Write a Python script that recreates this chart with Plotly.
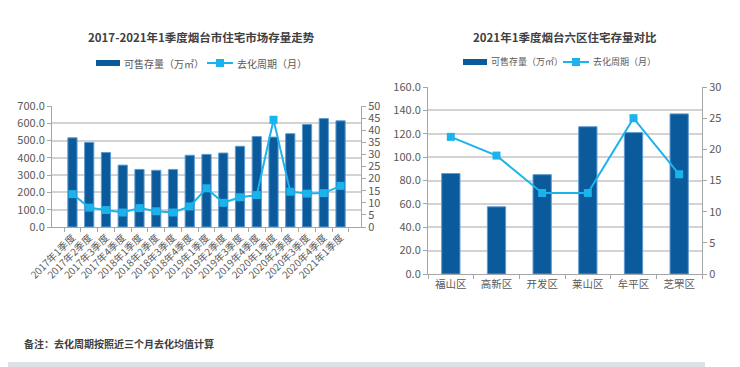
import plotly.graph_objects as go

# ---- Data ----
quarters = ["2017年1季度", "2017年2季度", "2017年3季度", "2017年4季度",
            "2018年1季度", "2018年2季度", "2018年3季度", "2018年4季度",
            "2019年1季度", "2019年2季度", "2019年3季度", "2019年4季度",
            "2020年1季度", "2020年2季度", "2020年3季度", "2020年4季度",
            "2021年1季度"]
stock_city = [516, 489, 431, 358, 333, 328, 333, 415, 420, 428, 467, 523, 520, 540, 593, 627, 614]
cycle_city = [13.6, 8, 7, 6, 7.8, 6.5, 6, 8.5, 16, 10, 12.3, 13.2, 44.3, 14.6, 13.8, 14, 17]

districts = ["福山区", "高新区", "开发区", "莱山区", "牟平区", "芝罘区"]
stock_dist = [86, 57.5, 85, 126, 121, 137]
cycle_dist = [22, 19, 13, 13, 25, 16]

bar_name = "可售存量（万㎡）"
line_name = "去化周期（月）"
title_left = "2017-2021年1季度烟台市住宅市场存量走势"
title_right = "2021年1季度烟台六区住宅存量对比"
note = "备注：去化周期按照近三个月去化均值计算"

BAR = "#0b5a9b"
BAR_EDGE = "#5d9bd0"
LINE = "#1bb3ec"
GRID = "#d3d3d3"
AX = "#a6a6a6"
TXT = "#595959"
FONT = "Noto Sans CJK SC"

OFF = 8  # page body margin
W, H = 740 - OFF, 367 - OFF
def px(x): return (x - OFF) / W
def py(y): return 1 - (y - OFF) / H

fig = go.Figure()

fig.add_trace(go.Bar(x=quarters, y=stock_city, marker=dict(color=BAR, line=dict(color=BAR_EDGE, width=1)),
                     xaxis="x", yaxis="y", showlegend=False, name=bar_name, width=0.55))
fig.add_trace(go.Scatter(x=quarters, y=cycle_city, mode="lines+markers",
                         line=dict(color=LINE, width=2), marker=dict(symbol="square", size=8, color=LINE),
                         xaxis="x", yaxis="y2", showlegend=False, name=line_name))
fig.add_trace(go.Bar(x=districts, y=stock_dist, marker=dict(color=BAR, line=dict(color=BAR_EDGE, width=1)),
                     xaxis="x3", yaxis="y3", showlegend=False, name=bar_name, width=0.4))
fig.add_trace(go.Scatter(x=districts, y=cycle_dist, mode="lines+markers",
                         line=dict(color=LINE, width=2), marker=dict(symbol="square", size=8, color=LINE),
                         xaxis="x3", yaxis="y4", showlegend=False, name=line_name))

tickfont = dict(family=FONT, size=11, color=TXT)

fig.update_layout(
    width=W, height=H, margin=dict(l=0, r=0, t=0, b=0, autoexpand=False),
    paper_bgcolor="white", plot_bgcolor="white",
    font=dict(family=FONT, color=TXT),
    xaxis=dict(domain=[px(52), px(361)], anchor="y", showline=True, linecolor=AX, linewidth=1,
               ticks="outside", tickson="boundaries", ticklen=4, tickcolor=AX, tickangle=-45,
               tickfont=dict(family=FONT, size=10, color=TXT), showgrid=False, automargin=False,
               categoryorder="array", categoryarray=quarters),
    yaxis=dict(domain=[py(227), py(106)], range=[0, 700], dtick=100, tickformat=".1f",
               showline=True, linecolor=AX, ticks="outside", ticklen=4, tickcolor=AX,
               showgrid=True, gridcolor=GRID, gridwidth=2, zeroline=False, tickfont=tickfont,
               automargin=False),
    yaxis2=dict(domain=[py(227), py(106)], overlaying="y", side="right", anchor="x",
                range=[0, 50], dtick=5, showline=True, linecolor=AX, ticks="outside", ticklen=4,
                tickcolor=AX, showgrid=False, zeroline=False, tickfont=tickfont, automargin=False),
    xaxis3=dict(domain=[px(428), px(702)], anchor="y3", showline=True, linecolor=AX, linewidth=1,
                ticks="outside", tickson="boundaries", ticklen=4, tickcolor=AX,
                tickfont=dict(family=FONT, size=10.5, color=TXT), showgrid=False, automargin=False),
    yaxis3=dict(domain=[py(274), py(87)], anchor="x3", range=[0, 160], dtick=20, tickformat=".1f",
                showline=True, linecolor=AX, ticks="outside", ticklen=4, tickcolor=AX,
                showgrid=True, gridcolor=GRID, gridwidth=2, zeroline=False, tickfont=tickfont,
                automargin=False),
    yaxis4=dict(domain=[py(274), py(87)], overlaying="y3", side="right", anchor="x3",
                range=[0, 30], dtick=5, showline=True, linecolor=AX, ticks="outside", ticklen=4,
                tickcolor=AX, showgrid=False, zeroline=False, tickfont=tickfont, automargin=False),
)

anns = []
shapes = []
def text(x, y, s, size=11, bold=False, anchor="left", color=TXT):
    anns.append(dict(x=px(x), y=py(y), xref="paper", yref="paper", text=(f"<b>{s}</b>" if bold else s),
                     showarrow=False, xanchor=anchor, yanchor="middle",
                     font=dict(family=FONT, size=size, color=color)))

text(201, 37, title_left, size=11.5, bold=True, anchor="center", color="#404040")
text(565, 37, title_right, size=11.5, bold=True, anchor="center", color="#404040")
text(22, 343, note, size=10, bold=True, color="#404040")

def legend(bx0, lx0, ty, fs):
    shapes.append(dict(type="rect", xref="paper", yref="paper", x0=px(bx0), x1=px(bx0 + 24),
                       y0=py(ty + 3), y1=py(ty - 3), fillcolor=BAR, line=dict(width=0)))
    text(bx0 + 26, ty, bar_name, size=fs)
    shapes.append(dict(type="line", xref="paper", yref="paper", x0=px(lx0), x1=px(lx0 + 26),
                       y0=py(ty), y1=py(ty), line=dict(color=LINE, width=2)))
    shapes.append(dict(type="rect", xref="paper", yref="paper", x0=px(lx0 + 9), x1=px(lx0 + 17),
                       y0=py(ty + 4), y1=py(ty - 4), fillcolor=LINE, line=dict(width=0)))
    text(lx0 + 28, ty, line_name, size=fs)

legend(96, 207, 63, 10)
legend(463, 563, 62, 9)

shapes.append(dict(type="rect", xref="paper", yref="paper", x0=0, x1=px(705), y0=0, y1=py(362),
                   fillcolor="#dde0e5", line=dict(width=0), layer="below"))

fig.update_layout(annotations=anns, shapes=shapes)
fig.write_html("out.html")
